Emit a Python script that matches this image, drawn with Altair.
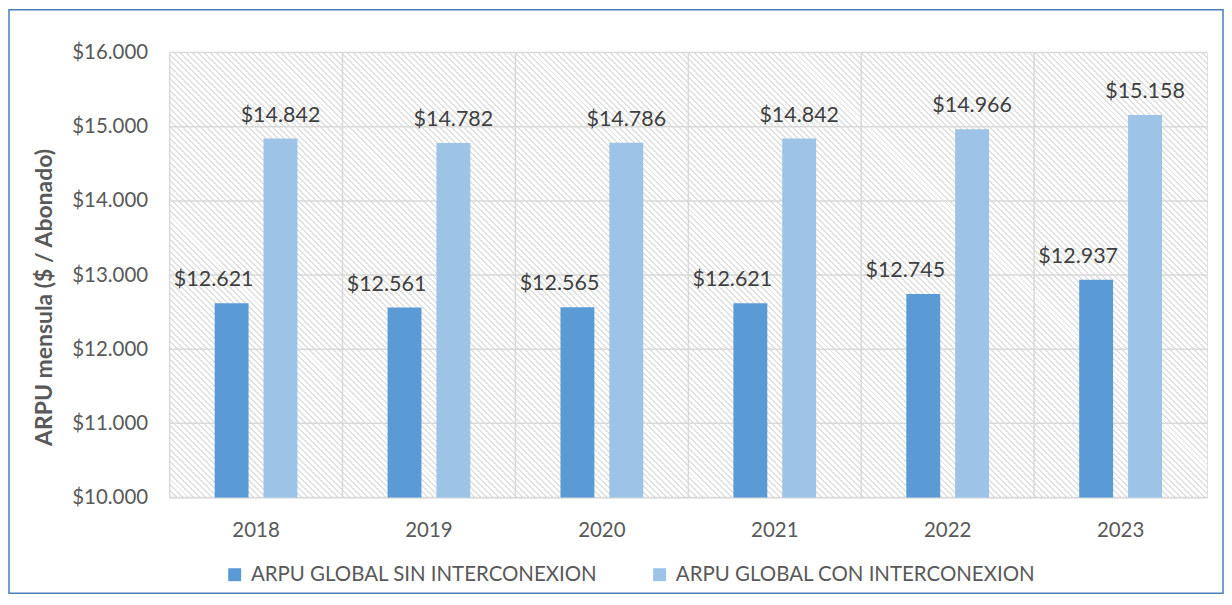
import math
import altair as alt
import pandas as pd

# ---------------- data ----------------
years = ["2018", "2019", "2020", "2021", "2022", "2023"]
sin_inter = [12621, 12561, 12565, 12621, 12745, 12937]
con_inter = [14842, 14782, 14786, 14842, 14966, 15158]
series_names = ["ARPU GLOBAL SIN INTERCONEXION", "ARPU GLOBAL CON INTERCONEXION"]
y_ticks = [10000, 11000, 12000, 13000, 14000, 15000, 16000]
y_title = "ARPU mensula ($ / Abonado)"

rows = []
for i, y in enumerate(years):
    rows.append({"year": y, "series": series_names[0], "value": sin_inter[i]})
    rows.append({"year": y, "series": series_names[1], "value": con_inter[i]})
df = pd.DataFrame(rows)
df_years = pd.DataFrame({"year": years})
df_ticks = pd.DataFrame({"value": y_ticks})

# ---------------- style ----------------
W, H = 1040, 446
PAD = {"left": 162, "top": 44, "right": 17, "bottom": 97}
FONT = "Lato"
DARK = "#5b9bd5"
LIGHT = "#9dc3e6"
GRID = "#d9d9d9"
TXT = "#595959"

# hatched background (light downward diagonal) as a striped linear gradient
r = H / W
a = (1 + r) / (1 + r * r)
diag = (W + H) / math.sqrt(2)
period = 6 / math.sqrt(2)
n = int(round(diag / period))
line_w = 0.33
HATCH = "#e0e0e0"
stops = []
for k in range(n):
    o0 = k / n
    o1 = (k + line_w) / n
    o2 = (k + 1) / n
    stops += [
        {"offset": o0, "color": HATCH},
        {"offset": o1, "color": HATCH},
        {"offset": o1, "color": "#ffffff"},
        {"offset": o2, "color": "#ffffff"},
    ]
hatch = {"gradient": "linear", "x1": 0, "y1": 1, "x2": a, "y2": 1 - a * r, "stops": stops}

label_expr = '"$" + replace(format(datum.value, ","), ",", ".")'

x_axis = alt.Axis(
    title=None, domain=False, ticks=False, tickSize=0, grid=False,
    labelFont=FONT, labelFontSize=20.5, labelColor=TXT, labelPadding=23, labelAngle=0,
)
x_scale = alt.Scale(paddingInner=0, paddingOuter=0)
y_axis = alt.Axis(
    title=y_title, values=y_ticks, grid=False, domain=False, ticks=False, tickSize=0,
    labelExpr=label_expr, labelFont=FONT, labelFontSize=20.5, labelColor=TXT, labelPadding=22,
    titleFont=FONT, titleFontSize=23, titleFontWeight="bold", titleColor=TXT, titlePadding=15,
    titleY=245,
)
y_scale = alt.Scale(domain=[10000, 16000], zero=False, nice=False)

x_enc = alt.X("year:N", sort=years, scale=x_scale, axis=x_axis)
xoff_enc = alt.XOffset(
    "series:N", sort=series_names,
    scale=alt.Scale(domain=series_names, paddingInner=0.306, paddingOuter=0.922),
)
y_enc = alt.Y("value:Q", scale=y_scale, axis=y_axis)

bg = alt.Chart(alt.Data(values=[{"k": 1}])).mark_rect(fill=hatch, strokeWidth=0).encode(
    x=alt.value(0), x2=alt.value(W), y=alt.value(0), y2=alt.value(H)
)

border = alt.Chart(alt.Data(values=[{"k": 1}])).mark_rect(
    fill="transparent", stroke="#4a7ebb", strokeWidth=1.5, clip=False
).encode(
    x=alt.value(-161), x2=alt.value(1056), y=alt.value(-43), y2=alt.value(542)
)

hgrid = alt.Chart(df_ticks).mark_rule(color=GRID, strokeWidth=1.5).encode(y=y_enc)

vgrid = alt.Chart(df_years).mark_rule(color=GRID, strokeWidth=1.5).encode(
    x=alt.X("year:N", sort=years, scale=x_scale, axis=x_axis, bandPosition=0)
)

bars = alt.Chart(df).mark_bar().encode(
    x=x_enc,
    xOffset=xoff_enc,
    y=y_enc,
    y2=alt.datum(10000),
    color=alt.Color(
        "series:N",
        sort=series_names,
        scale=alt.Scale(domain=series_names, range=[DARK, LIGHT]),
        legend=alt.Legend(
            title=None, orient="none", legendX=55, legendY=513, direction="horizontal",
            columns=2, symbolType="square", symbolSize=169, symbolStrokeWidth=0,
            labelFont=FONT, labelFontSize=20.5, labelColor=TXT, labelOffset=6,
            columnPadding=52, padding=0, labelLimit=700,
        ),
    ),
)


def value_labels(idx, dx):
    return alt.Chart(df).transform_filter(
        alt.datum.series == series_names[idx]
    ).transform_calculate(label=label_expr).mark_text(
        font=FONT, fontSize=21.5, color="#404040", baseline="alphabetic", dy=-17, dx=dx
    ).encode(
        x=x_enc,
        xOffset=xoff_enc,
        y=y_enc,
        text=alt.Text("label:N"),
    )


text_dark = value_labels(0, -18)
text_light = value_labels(1, 0)

chart = alt.layer(bg, hgrid, vgrid, bars, text_dark, text_light, border).properties(
    width=W, height=H, padding=PAD, autosize="none",
).configure_view(stroke=GRID, strokeWidth=1.5).configure(background="white")

chart.save("out.html", embed_options={"renderer": "svg", "actions": False})
